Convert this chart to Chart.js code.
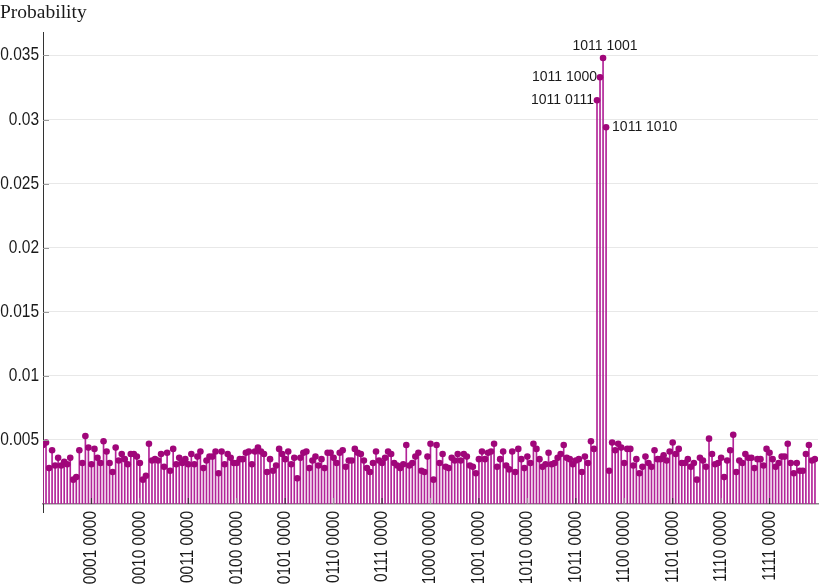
<!DOCTYPE html>
<html>
<head>
<meta charset="utf-8">
<script src="https://cdn.jsdelivr.net/npm/chart.js@4"></script>
<style>
  html, body { margin: 0; padding: 0; background: #fff; }
  #wrap { width: 822px; height: 588px; }
</style>
</head>
<body>
<div id="wrap"><canvas id="c" width="822" height="588"></canvas></div>
<script>
// ---- data ----
const stateIndices = Array.from({length: 256}, (_, i) => i);
const probabilities = [
  0.0046,0.0048,0.0028,0.0042,0.0030,0.0036,0.0030,0.0033,0.0031,0.0036,0.0019,0.0021,0.0042,0.0032,0.0053,0.0044,
  0.0031,0.0043,0.0036,0.0032,0.0049,0.0041,0.0032,0.0025,0.0044,0.0034,0.0039,0.0035,0.0031,0.0039,0.0039,0.0037,
  0.0032,0.0019,0.0022,0.0047,0.0034,0.0035,0.0034,0.0039,0.0029,0.0040,0.0026,0.0043,0.0031,0.0036,0.0032,0.0035,
  0.0031,0.0039,0.0031,0.0037,0.0041,0.0028,0.0034,0.0037,0.0037,0.0041,0.0024,0.0041,0.0031,0.0039,0.0036,0.0032,
  0.0032,0.0035,0.0035,0.0040,0.0041,0.0031,0.0041,0.0044,0.0041,0.0039,0.0025,0.0035,0.0026,0.0030,0.0043,0.0039,
  0.0035,0.0041,0.0031,0.0036,0.0020,0.0036,0.0040,0.0041,0.0028,0.0034,0.0037,0.0030,0.0035,0.0028,0.0040,0.0040,
  0.0036,0.0032,0.0040,0.0042,0.0029,0.0034,0.0034,0.0043,0.0040,0.0039,0.0034,0.0028,0.0025,0.0032,0.0041,0.0034,
  0.0032,0.0036,0.0041,0.0039,0.0032,0.0030,0.0028,0.0031,0.0046,0.0030,0.0032,0.0037,0.0040,0.0026,0.0025,0.0037,
  0.0047,0.0019,0.0046,0.0032,0.0039,0.0029,0.0028,0.0036,0.0034,0.0039,0.0034,0.0039,0.0037,0.0030,0.0029,0.0024,
  0.0035,0.0041,0.0035,0.0040,0.0041,0.0047,0.0029,0.0035,0.0041,0.0030,0.0027,0.0041,0.0025,0.0043,0.0035,0.0028,
  0.0037,0.0032,0.0047,0.0043,0.0035,0.0029,0.0031,0.0040,0.0031,0.0032,0.0036,0.0039,0.0046,0.0036,0.0035,0.0031,
  0.0034,0.0035,0.0025,0.0037,0.0032,0.0049,0.0043,0.0315,0.0333,0.0348,0.0294,0.0026,0.0048,0.0042,0.0047,0.0044,
  0.0032,0.0043,0.0043,0.0030,0.0035,0.0024,0.0029,0.0037,0.0032,0.0029,0.0042,0.0035,0.0035,0.0038,0.0034,0.0041,
  0.0048,0.0039,0.0043,0.0032,0.0032,0.0035,0.0029,0.0032,0.0019,0.0036,0.0034,0.0029,0.0051,0.0039,0.0031,0.0032,
  0.0036,0.0021,0.0034,0.0042,0.0054,0.0025,0.0034,0.0032,0.0039,0.0036,0.0036,0.0028,0.0035,0.0035,0.0030,0.0043,
  0.0040,0.0035,0.0029,0.0032,0.0037,0.0037,0.0047,0.0032,0.0024,0.0032,0.0026,0.0026,0.0039,0.0046,0.0034,0.0035
];
const xTickValues = [16, 32, 48, 64, 80, 96, 112, 128, 144, 160, 176, 192, 208, 224, 240];
const xTickLabels = ['0001 0000','0010 0000','0011 0000','0100 0000','0101 0000','0110 0000','0111 0000',
  '1000 0000','1001 0000','1010 0000','1011 0000','1100 0000','1101 0000','1110 0000','1111 0000'];
const yTickValues = [0.005, 0.01, 0.015, 0.02, 0.025, 0.03, 0.035];
const yTickLabels = ['0.005', '0.01', '0.015', '0.02', '0.025', '0.03', '0.035'];
const peakIndices = [183, 184, 185, 186];
const peakLabels = ['1011 0111', '1011 1000', '1011 1001', '1011 1010'];
const peakPlacement = ['left', 'left', 'above', 'right'];

const points = stateIndices.map((x, i) => ({x: x, y: probabilities[i]}));

const TICK_FONT = '18px "Liberation Sans", Arial, sans-serif';
const SQUEEZE = 0.86;

// Axis decorations and condensed tick labels, placed through the chart's scales
const axisPlugin = {
  id: 'axisDecor',
  afterDraw(chart) {
    const ctx = chart.ctx;
    const xs = chart.scales.x, ys = chart.scales.y;
    const area = chart.chartArea;
    ctx.save();
    // y tick marks (inside)
    ctx.strokeStyle = '#9a9a9a';
    ctx.lineWidth = 1;
    yTickValues.forEach(v => {
      const py = Math.round(ys.getPixelForValue(v)) + 0.5;
      ctx.beginPath(); ctx.moveTo(area.left, py); ctx.lineTo(area.left + 6, py); ctx.stroke();
    });
    // x tick marks (inside)
    xTickValues.forEach((v, k) => {
      const px = xs.getPixelForValue(v);
      ctx.strokeStyle = k % 2 === 0 ? '#333' : '#999';
      ctx.beginPath(); ctx.moveTo(px, area.bottom); ctx.lineTo(px, area.bottom - 6); ctx.stroke();
    });
    // y axis extends a little below the x axis
    ctx.strokeStyle = '#333';
    ctx.beginPath(); ctx.moveTo(area.left + 0.5, area.bottom); ctx.lineTo(area.left + 0.5, area.bottom + 9); ctx.stroke();

    // tick labels
    ctx.fillStyle = '#1a1a1a';
    ctx.font = TICK_FONT;
    yTickValues.forEach((v, k) => {
      const py = ys.getPixelForValue(v);
      ctx.save();
      ctx.translate(area.left - 4, py);
      ctx.scale(SQUEEZE, 1);
      ctx.textAlign = 'right';
      ctx.textBaseline = 'middle';
      ctx.fillText(yTickLabels[k], 0, 0);
      ctx.restore();
    });
    xTickValues.forEach((v, k) => {
      const px = xs.getPixelForValue(v);
      ctx.save();
      ctx.translate(px, area.bottom + 7);
      ctx.rotate(-Math.PI / 2);
      ctx.scale(SQUEEZE, 1);
      ctx.textAlign = 'right';
      ctx.textBaseline = 'middle';
      ctx.fillText(xTickLabels[k], 0, 0);
      ctx.restore();
    });
    ctx.restore();
  }
};

const peakLabelPlugin = {
  id: 'peakLabels',
  afterDatasetsDraw(chart) {
    const ctx = chart.ctx;
    const meta = chart.getDatasetMeta(1);
    ctx.save();
    ctx.font = '14px "Liberation Sans", Arial, sans-serif';
    ctx.fillStyle = '#1a1a1a';
    ctx.textBaseline = 'middle';
    peakIndices.forEach((idx, k) => {
      const el = meta.data[idx];
      const place = peakPlacement[k];
      if (place === 'left') {
        ctx.textAlign = 'right';
        ctx.fillText(peakLabels[k], el.x - 3, el.y);
      } else if (place === 'right') {
        ctx.textAlign = 'left';
        ctx.fillText(peakLabels[k], el.x + 6, el.y);
      } else {
        ctx.textAlign = 'center';
        ctx.fillText(peakLabels[k], el.x + 2, el.y - 12);
      }
    });
    ctx.restore();
  }
};

new Chart(document.getElementById('c'), {
  type: 'bar',
  data: {
    datasets: [
      {
        type: 'bar',
        data: points,
        backgroundColor: 'rgb(178, 36, 152)',
        borderWidth: 0,
        barThickness: 1,
        order: 2
      },
      {
        type: 'line',
        data: points,
        showLine: false,
        pointRadius: 3.3,
        pointBackgroundColor: 'rgb(160, 6, 122)',
        pointBorderWidth: 0,
        order: 1
      }
    ]
  },
  options: {
    responsive: false,
    animation: false,
    devicePixelRatio: 1,
    layout: { padding: { left: 0, right: 2, top: 0, bottom: 0 } },
    plugins: {
      legend: { display: false },
      tooltip: { enabled: false },
      title: {
        display: true,
        text: 'Probability',
        align: 'start',
        color: '#1a1a1a',
        font: { family: '"Liberation Serif", "Times New Roman", serif', size: 19.5, weight: 'normal' },
        padding: { top: 1, bottom: 8 }
      }
    },
    scales: {
      x: {
        type: 'linear',
        min: 0,
        max: 256,
        offset: false,
        afterBuildTicks(scale) { scale.ticks = xTickValues.map(v => ({value: v})); },
        afterFit(scale) { scale.height = 84; },
        ticks: { display: false },
        grid: { display: false },
        border: { display: true, color: '#8a8a8a', width: 1.5 }
      },
      y: {
        type: 'linear',
        min: 0,
        max: 0.0368,
        afterBuildTicks(scale) { scale.ticks = yTickValues.map(v => ({value: v})); },
        afterFit(scale) { scale.width = 43; },
        ticks: { display: false },
        grid: { color: '#e8e8e8', drawTicks: false, lineWidth: 1 },
        border: { display: true, color: '#333', width: 1 }
      }
    }
  },
  plugins: [axisPlugin, peakLabelPlugin]
});
</script>
</body>
</html>
